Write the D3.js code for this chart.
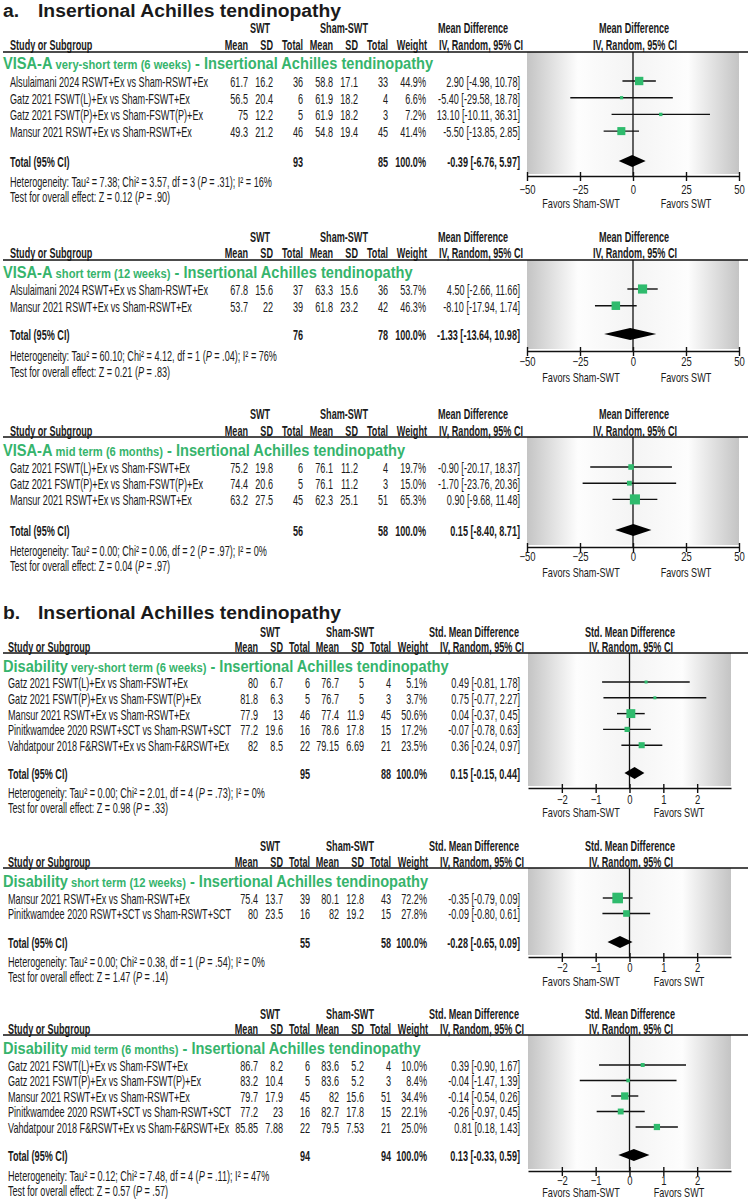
<!DOCTYPE html>
<html><head><meta charset="utf-8">
<script src="https://cdn.jsdelivr.net/npm/d3@7"></script>
<style>body{margin:0;background:#fff} svg{display:block}</style>
</head><body>
<svg id="c" width="753" height="1200"></svg>
<script>
// ---------------- DATA ----------------
const panelTitles = ["a.", "b."];
const mainTitle = "Insertional Achilles tendinopathy";
const subgroupOutcome = ["VISA-A","VISA-A","VISA-A","Disability","Disability","Disability"];
const subgroupTerm = ["very-short term (6 weeks)","short term (12 weeks)","mid term (6 months)","very-short term (6 weeks)","short term (12 weeks)","mid term (6 months)"];
const measureLabels = ["Mean Difference","Std. Mean Difference"];
const aTicks = [-50,-25,0,25,50];
const bTicks = [-2,-1,0,1,2];
const favorsLabels = ["Favors Sham-SWT","Favors SWT"];

const a1Studies = ["Alsulaimani 2024 RSWT+Ex vs Sham-RSWT+Ex","Gatz 2021 FSWT(L)+Ex vs Sham-FSWT+Ex","Gatz 2021 FSWT(P)+Ex vs Sham-FSWT(P)+Ex","Mansur 2021 RSWT+Ex vs Sham-RSWT+Ex"];
const a1SWT = [[61.7,16.2,36],[56.5,20.4,6],[75,12.2,5],[49.3,21.2,46]];
const a1Sham = [[58.8,17.1,33],[61.9,18.2,4],[61.9,18.2,3],[54.8,19.4,45]];
const a1Weight = [44.9,6.6,7.2,41.4];
const a1Effect = [[2.90,-4.98,10.78],[-5.40,-29.58,18.78],[13.10,-10.11,36.31],[-5.50,-13.85,2.85]];
const a1Total = [93,85];
const a1Pooled = [-0.39,-6.76,5.97];
const a1Het = [7.38,3.57,3,".31",16];
const a1Z = [0.12,".90"];

const a2Studies = ["Alsulaimani 2024 RSWT+Ex vs Sham-RSWT+Ex","Mansur 2021 RSWT+Ex vs Sham-RSWT+Ex"];
const a2SWT = [[67.8,15.6,37],[53.7,22,39]];
const a2Sham = [[63.3,15.6,36],[61.8,23.2,42]];
const a2Weight = [53.7,46.3];
const a2Effect = [[4.50,-2.66,11.66],[-8.10,-17.94,1.74]];
const a2Total = [76,78];
const a2Pooled = [-1.33,-13.64,10.98];
const a2Het = [60.10,4.12,1,".04",76];
const a2Z = [0.21,".83"];

const a3Studies = ["Gatz 2021 FSWT(L)+Ex vs Sham-FSWT+Ex","Gatz 2021 FSWT(P)+Ex vs Sham-FSWT(P)+Ex","Mansur 2021 RSWT+Ex vs Sham-RSWT+Ex"];
const a3SWT = [[75.2,19.8,6],[74.4,20.6,5],[63.2,27.5,45]];
const a3Sham = [[76.1,11.2,4],[76.1,11.2,3],[62.3,25.1,51]];
const a3Weight = [19.7,15.0,65.3];
const a3Effect = [[-0.90,-20.17,18.37],[-1.70,-23.76,20.36],[0.90,-9.68,11.48]];
const a3Total = [56,58];
const a3Pooled = [0.15,-8.40,8.71];
const a3Het = [0.00,0.06,2,".97",0];
const a3Z = [0.04,".97"];

const b1Studies = ["Gatz 2021 FSWT(L)+Ex vs Sham-FSWT+Ex","Gatz 2021 FSWT(P)+Ex vs Sham-FSWT(P)+Ex","Mansur 2021 RSWT+Ex vs Sham-RSWT+Ex","Pinitkwamdee 2020 RSWT+SCT vs Sham-RSWT+SCT","Vahdatpour 2018 F&RSWT+Ex vs Sham-F&RSWT+Ex"];
const b1SWT = [[80,6.7,6],[81.8,6.3,5],[77.9,13,46],[77.2,19.6,16],[82,8.5,22]];
const b1Sham = [[76.7,5,4],[76.7,5,3],[77.4,11.9,45],[78.6,17.8,15],[79.15,6.69,21]];
const b1Weight = [5.1,3.7,50.6,17.2,23.5];
const b1Effect = [[0.49,-0.81,1.78],[0.75,-0.77,2.27],[0.04,-0.37,0.45],[-0.07,-0.78,0.63],[0.36,-0.24,0.97]];
const b1Total = [95,88];
const b1Pooled = [0.15,-0.15,0.44];
const b1Het = [0.00,2.01,4,".73",0];
const b1Z = [0.98,".33"];

const b2Studies = ["Mansur 2021 RSWT+Ex vs Sham-RSWT+Ex","Pinitkwamdee 2020 RSWT+SCT vs Sham-RSWT+SCT"];
const b2SWT = [[75.4,13.7,39],[80,23.5,16]];
const b2Sham = [[80.1,12.8,43],[82,19.2,15]];
const b2Weight = [72.2,27.8];
const b2Effect = [[-0.35,-0.79,0.09],[-0.09,-0.80,0.61]];
const b2Total = [55,58];
const b2Pooled = [-0.28,-0.65,0.09];
const b2Het = [0.00,0.38,1,".54",0];
const b2Z = [1.47,".14"];

const b3Studies = ["Gatz 2021 FSWT(L)+Ex vs Sham-FSWT+Ex","Gatz 2021 FSWT(P)+Ex vs Sham-FSWT(P)+Ex","Mansur 2021 RSWT+Ex vs Sham-RSWT+Ex","Pinitkwamdee 2020 RSWT+SCT vs Sham-RSWT+SCT","Vahdatpour 2018 F&RSWT+Ex vs Sham-F&RSWT+Ex"];
const b3SWT = [[86.7,8.2,6],[83.2,10.4,5],[79.7,17.9,45],[77.2,23,16],[85.85,7.88,22]];
const b3Sham = [[83.6,5.2,4],[83.6,5.2,3],[82,15.6,51],[82.7,17.8,15],[79.5,7.53,21]];
const b3Weight = [10.0,8.4,34.4,22.1,25.0];
const b3Effect = [[0.39,-0.90,1.67],[-0.04,-1.47,1.39],[-0.14,-0.54,0.26],[-0.26,-0.97,0.45],[0.81,0.18,1.43]];
const b3Total = [94,94];
const b3Pooled = [0.13,-0.33,0.59];
const b3Het = [0.12,7.48,4,".11",47];
const b3Z = [0.57,".57"];

// ---------------- LAYOUT / STYLE ----------------
const FF = "'Liberation Sans', Arial, Helvetica, sans-serif";
const FS = 14;
const SX = 0.65;
const GREEN = "#36b46c";
const SQ = "#2fbb6d";

const colsA = {name:10,m1:248,sd1:273,n1:303,m2:333,sd2:358,n2:388,w:426,ci:520,ivh:523,hSWT:260,hSham:344,hEff:473,hPlot:634,plotL:527,plotR:739,domain:[-50,50],favL:581,favR:686};
const colsB = {name:8,m1:258,sd1:283,n1:310,m2:339,sd2:364,n2:391,w:427,ci:520,ivh:524,hSWT:270,hSham:350,hEff:474,hPlot:630,plotL:528,plotR:731,domain:[-3,3],favL:581,favR:679};

const layouts = [
 {h1:28,h2:45,line:52,sub:63,row0:82,step:16.7,total:162,het:182,test:197,axis:176,tick:190,fav:204},
 {h1:237,h2:253,line:260,sub:272,row0:290,step:16.7,total:335,het:356,test:372,axis:351,tick:362,fav:378},
 {h1:414,h2:431,line:437,sub:450,row0:468,step:16.2,total:531,het:551,test:566,axis:547,tick:557,fav:573},
 {h1:632,h2:647,line:653,sub:666,row0:683,step:15.8,total:774,het:793,test:808,axis:788,tick:800,fav:813},
 {h1:846,h2:862,line:868,sub:881,row0:899,step:15.5,total:943,het:962,test:977,axis:957,tick:968,fav:982},
 {h1:1014,h2:1029,line:1035,sub:1048,row0:1066,step:15.5,total:1156,het:1176,test:1191,axis:1171,tick:1181,fav:1192.5}
];

const panels = [
 {studies:a1Studies,swt:a1SWT,sham:a1Sham,weight:a1Weight,effect:a1Effect,total:a1Total,pooled:a1Pooled,het:a1Het,z:a1Z,cols:colsA,ticks:aTicks,measure:measureLabels[0]},
 {studies:a2Studies,swt:a2SWT,sham:a2Sham,weight:a2Weight,effect:a2Effect,total:a2Total,pooled:a2Pooled,het:a2Het,z:a2Z,cols:colsA,ticks:aTicks,measure:measureLabels[0]},
 {studies:a3Studies,swt:a3SWT,sham:a3Sham,weight:a3Weight,effect:a3Effect,total:a3Total,pooled:a3Pooled,het:a3Het,z:a3Z,cols:colsA,ticks:aTicks,measure:measureLabels[0]},
 {studies:b1Studies,swt:b1SWT,sham:b1Sham,weight:b1Weight,effect:b1Effect,total:b1Total,pooled:b1Pooled,het:b1Het,z:b1Z,cols:colsB,ticks:bTicks,measure:measureLabels[1]},
 {studies:b2Studies,swt:b2SWT,sham:b2Sham,weight:b2Weight,effect:b2Effect,total:b2Total,pooled:b2Pooled,het:b2Het,z:b2Z,cols:colsB,ticks:bTicks,measure:measureLabels[1]},
 {studies:b3Studies,swt:b3SWT,sham:b3Sham,weight:b3Weight,effect:b3Effect,total:b3Total,pooled:b3Pooled,het:b3Het,z:b3Z,cols:colsB,ticks:bTicks,measure:measureLabels[1]}
];

// ---------------- DRAW ----------------
const svg = d3.select('#c');
const defs = svg.append('defs');
const grad = defs.append('linearGradient').attr('id','bg').attr('x1',0).attr('x2',1).attr('y1',0).attr('y2',0);
[[0,'#c4c4c4'],[0.24,'#fdfdfd'],[0.5,'#f4f4f4'],[0.76,'#fdfdfd'],[1,'#c4c4c4']].forEach(([o,c])=>grad.append('stop').attr('offset',o).attr('stop-color',c));

function T(g, x, y, s, o={}) {
  const fs = o.size || FS, sx = o.sx || SX;
  const base = o.baseline !== undefined ? o.baseline : y + fs*0.35;
  const t = g.append('text')
    .attr('transform', `translate(${x},${base}) scale(${sx},1)`)
    .attr('text-anchor', o.anchor || 'start')
    .attr('font-family', FF).attr('font-size', fs)
    .attr('font-weight', o.bold ? 'bold' : 'normal')
    .attr('fill', o.fill || '#1a1a1a')
    .style('white-space','pre');
  if (typeof s === 'string') t.text(s); else s(t);
  return t;
}

// main titles
T(svg, 3, 0, panelTitles[0], {size:18.5, sx:1.045, bold:true, baseline:16.8});
T(svg, 38, 0, mainTitle, {size:18.5, sx:1.045, bold:true, baseline:16.8});
T(svg, 3, 0, panelTitles[1], {size:18.5, sx:1.045, bold:true, baseline:618.5});
T(svg, 38, 0, mainTitle, {size:18.5, sx:1.045, bold:true, baseline:618.5});

panels.forEach((p, i) => {
  const L = layouts[i], C = p.cols;
  const g = svg.append('g');
  // headers
  T(g, C.hSWT, L.h1, 'SWT', {bold:true, anchor:'middle'});
  T(g, C.hSham, L.h1, 'Sham-SWT', {bold:true, anchor:'middle'});
  T(g, C.hEff, L.h1, p.measure, {bold:true, anchor:'middle'});
  T(g, C.hPlot, L.h1, p.measure, {bold:true, anchor:'middle'});
  T(g, C.name, L.h2, 'Study or Subgroup', {bold:true});
  [['Mean',C.m1],['SD',C.sd1],['Total',C.n1],['Mean',C.m2],['SD',C.sd2],['Total',C.n2],['Weight',C.w+1],['IV, Random, 95% CI',C.ivh]]
    .forEach(([s,x]) => T(g, x, L.h2, s, {bold:true, anchor:'end'}));
  T(g, C.hPlot + 1, L.h2, 'IV, Random, 95% CI', {bold:true, anchor:'middle'});

  // plot area background
  const x = d3.scaleLinear().domain(C.domain).range([C.plotL, C.plotR]);
  g.append('rect').attr('x', C.plotL).attr('y', L.line).attr('width', C.plotR - C.plotL).attr('height', L.axis - L.line - 2).attr('fill','url(#bg)');
  g.append('line').attr('x1',3).attr('x2',748).attr('y1',L.line).attr('y2',L.line).attr('stroke','#111').attr('stroke-width',1.5);

  // subgroup title
  T(g, 3, L.sub, t => {
    t.append('tspan').attr('font-size',17).text(subgroupOutcome[i]);
    t.append('tspan').attr('font-size',13).text(' ' + subgroupTerm[i]);
    t.append('tspan').attr('font-size',17).text(' - ' + mainTitle);
  }, {size:17, sx:0.86, bold:true, fill:GREEN});

  // rows
  p.studies.forEach((s, j) => {
    const y = L.row0 + j * L.step;
    T(g, C.name, y, s);
    T(g, C.m1, y, String(p.swt[j][0]), {anchor:'end'});
    T(g, C.sd1, y, String(p.swt[j][1]), {anchor:'end'});
    T(g, C.n1, y, String(p.swt[j][2]), {anchor:'end'});
    T(g, C.m2, y, String(p.sham[j][0]), {anchor:'end'});
    T(g, C.sd2, y, String(p.sham[j][1]), {anchor:'end'});
    T(g, C.n2, y, String(p.sham[j][2]), {anchor:'end'});
    T(g, C.w, y, p.weight[j].toFixed(1) + '%', {anchor:'end'});
    const e = p.effect[j];
    T(g, C.ci, y, `${e[0].toFixed(2)} [${e[1].toFixed(2)}, ${e[2].toFixed(2)}]`, {anchor:'end'});
  });
  // total row
  T(g, C.name, L.total, 'Total (95% CI)', {bold:true});
  T(g, C.n1, L.total, String(p.total[0]), {bold:true, anchor:'end'});
  T(g, C.n2, L.total, String(p.total[1]), {bold:true, anchor:'end'});
  T(g, C.w, L.total, '100.0%', {bold:true, anchor:'end'});
  const pe = p.pooled;
  T(g, C.ci, L.total, `${pe[0].toFixed(2)} [${pe[1].toFixed(2)}, ${pe[2].toFixed(2)}]`, {bold:true, anchor:'end'});
  // heterogeneity
  const h = p.het;
  T(g, C.name, L.het, t => {
    t.append('tspan').text(`Heterogeneity: Tau² = ${h[0].toFixed(2)}; Chi² = ${h[1].toFixed(2)}, df = ${h[2]} (`);
    t.append('tspan').attr('font-style','italic').text('P');
    t.append('tspan').text(` = ${h[3]}); I² = ${h[4]}%`);
  });
  T(g, C.name, L.test, t => {
    t.append('tspan').text(`Test for overall effect: Z = ${p.z[0].toFixed(2)} (`);
    t.append('tspan').attr('font-style','italic').text('P');
    t.append('tspan').text(` = ${p.z[1]})`);
  });

  // zero line
  g.append('line').attr('x1', x(0)).attr('x2', x(0)).attr('y1', L.line).attr('y2', L.axis).attr('stroke','#111').attr('stroke-width',1.3);
  // CIs & squares
  p.effect.forEach((e, j) => {
    const y = L.row0 + j * L.step - 1;
    g.append('line').attr('x1', x(e[1])).attr('x2', x(e[2])).attr('y1', y).attr('y2', y).attr('stroke','#111').attr('stroke-width',1.4);
    const s = Math.max(3, 1.25 * Math.sqrt(p.weight[j]));
    g.append('rect').attr('x', x(e[0]) - s/2).attr('y', y - s/2).attr('width', s).attr('height', s).attr('fill', SQ);
  });
  // diamond
  const dy = L.total - 1;
  g.append('path').attr('d', `M${x(pe[1])},${dy} L${x(pe[0])},${dy-6} L${x(pe[2])},${dy} L${x(pe[0])},${dy+6} Z`).attr('fill','#000');

  // axis
  const ax = g.append('g').attr('transform', `translate(0,${L.axis})`)
    .call(d3.axisBottom(x).tickValues(p.ticks).tickSizeOuter(0).tickSizeInner(5).tickFormat(d3.format('d')));
  ax.select('.domain').attr('stroke','#111').attr('stroke-width',1.4);
  ax.selectAll('.tick line').attr('y1',-4).attr('y2',5).attr('stroke','#111').attr('stroke-width',1.4);
  ax.selectAll('.tick text').attr('y', null).attr('dy', null)
    .attr('transform', `translate(0,${L.tick - L.axis + 4.4}) scale(0.76,1)`)
    .attr('font-family', FF).attr('font-size', 12.5).attr('fill','#1a1a1a');
  // favors labels
  T(g, C.favL, L.fav, favorsLabels[0], {anchor:'middle', size:12, sx:0.76});
  T(g, C.favR, L.fav, favorsLabels[1], {anchor:'middle', size:12, sx:0.76});
});
</script>
</body></html>
